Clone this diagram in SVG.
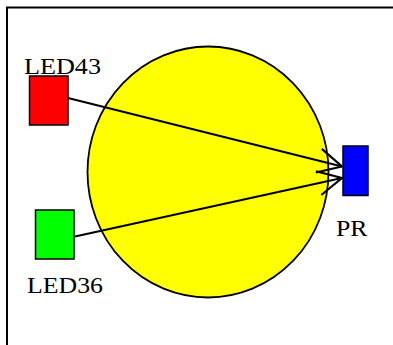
<svg xmlns="http://www.w3.org/2000/svg" width="393" height="345" viewBox="0 0 393 345">
  <style>
    .lbl { font-family: "Liberation Serif", "Times New Roman", serif; font-size: 24px; fill: #000; }
    .box { stroke: #000; stroke-width: 1.5; }
    .conn { stroke: #000; stroke-width: 2; fill: none; marker-end: url(#arr); }
  </style>
  <defs>
    <marker id="arr" markerUnits="userSpaceOnUse" markerWidth="30" markerHeight="30" refX="0" refY="0" viewBox="-26 -14 28 28" orient="auto" overflow="visible">
      <path d="M-22.3,-11.4 L0,0 L-22.3,11.4" fill="none" stroke="#000" stroke-width="2"/>
    </marker>
    <clipPath id="clipLow">
      <rect x="0" y="0" width="393" height="293"/>
    </clipPath>
  </defs>
  <rect x="0" y="0" width="393" height="345" fill="#fff"/>
  <g id="frame">
    <rect x="7" y="7.5" width="420" height="420" fill="none" stroke="#000" stroke-width="2"/>
  </g>
  <g id="sphere">
    <ellipse cx="208" cy="172" rx="120.5" ry="125.5" fill="#ffff00" stroke="#000" stroke-width="1.8"/>
  </g>
  <g id="LED43">
    <rect class="box" x="29.5" y="76" width="38.5" height="49" fill="#ff0000"/>
    <text class="lbl" x="24" y="73.5" textLength="77" lengthAdjust="spacingAndGlyphs">LED43</text>
  </g>
  <g id="LED36">
    <rect class="box" x="35.5" y="210" width="38.5" height="49" fill="#00ff00"/>
    <text class="lbl" x="27" y="292.5" textLength="76" lengthAdjust="spacingAndGlyphs" clip-path="url(#clipLow)">LED36</text>
  </g>
  <g id="PR">
    <rect class="box" x="343" y="146" width="25" height="49.5" fill="#0000ff"/>
    <text class="lbl" x="336" y="236" textLength="31.5" lengthAdjust="spacingAndGlyphs">PR</text>
  </g>
  <g id="connectors">
    <line class="conn" x1="68" y1="98" x2="342" y2="166.5"/>
    <line class="conn" x1="75" y1="236.5" x2="342" y2="178"/>
  </g>
</svg>
